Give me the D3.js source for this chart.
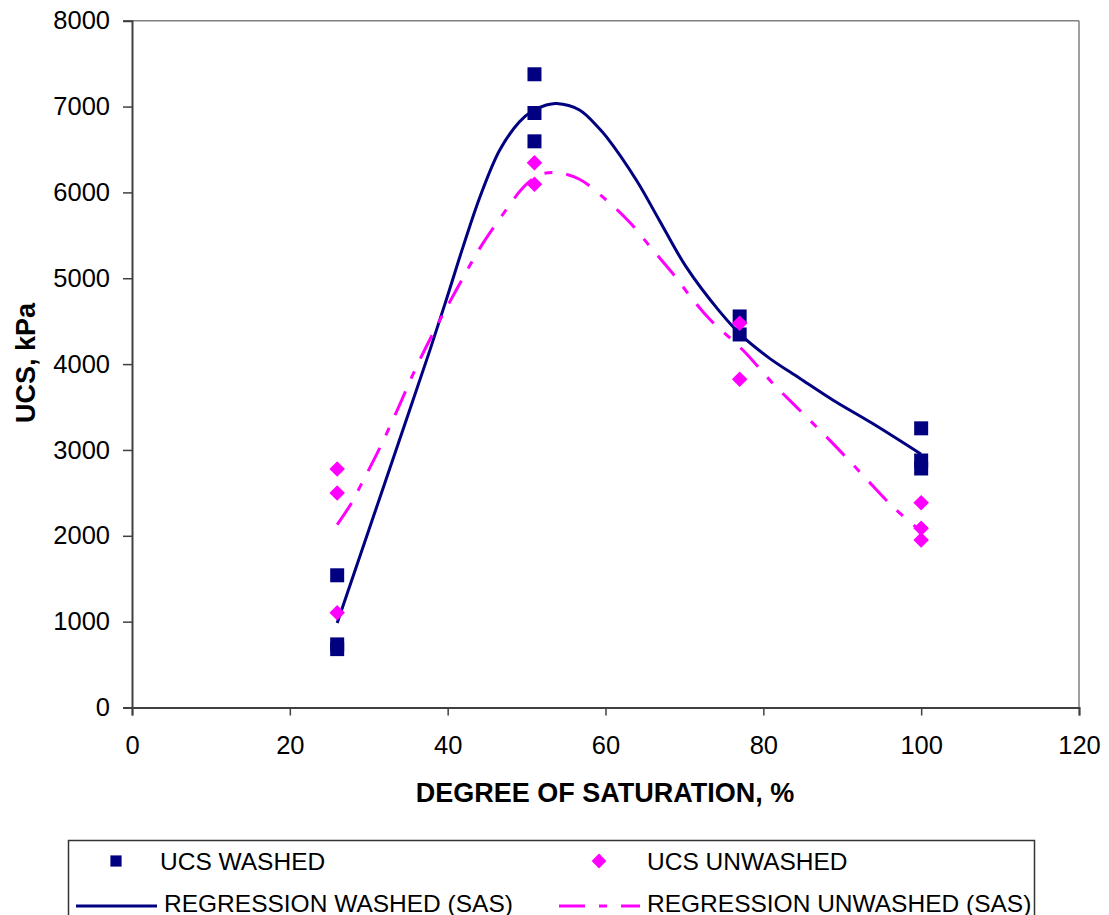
<!DOCTYPE html>
<html>
<head>
<meta charset="utf-8">
<script src="https://cdn.jsdelivr.net/npm/d3@7"></script>
<style>
  html, body { margin: 0; padding: 0; background: #fff; }
  svg { display: block; font-family: "Liberation Sans", Arial, sans-serif; }
</style>
</head>
<body>
<svg id="chart" width="1109" height="915"></svg>
<script>
// ---------------- DATA ----------------
const xTicks = [0, 20, 40, 60, 80, 100, 120];
const yTicks = [0, 1000, 2000, 3000, 4000, 5000, 6000, 7000, 8000];

// measured points: UCS WASHED
const washedX = [26, 26, 26, 51, 51, 51, 77, 77, 100, 100, 100];
const washedY = [1540, 735, 680, 7376, 6925, 6595, 4555, 4345, 3252, 2877, 2784];

// measured points: UCS UNWASHED
const unwashedX = [26, 26, 26, 51, 51, 77, 77, 100, 100, 100];
const unwashedY = [2778, 2498, 1104, 6346, 6095, 4475, 3823, 2386, 2087, 1951];

// regression curve WASHED (SAS)
const regWashedX = [26, 30, 34, 37.7, 40, 42, 44.1, 46.6, 49.1, 50.6, 52.5, 53.8, 56.7, 59, 60.1, 63.9, 66.8, 70.2, 74.4, 77.4, 80.8, 84.6, 88.8, 93.8, 100];
const regWashedY = [985, 2065, 3145, 4148, 4800, 5380, 5950, 6494, 6824, 6940, 7018, 7036, 6960, 6765, 6649, 6144, 5679, 5135, 4620, 4319, 4067, 3835, 3582, 3310, 2950];

// regression curve UNWASHED (SAS)
const regUnwashedX = [26, 27.8, 29.1, 31.4, 33.7, 35.9, 38.6, 41.3, 44.1, 47.2, 49.6, 51.6, 53.8, 56.7, 60.1, 63.0, 66.0, 68.5, 71.1, 73.3, 77.4, 81.2, 85.0, 88.8, 92.6, 96.4, 100];
const regUnwashedY = [2130, 2380, 2608, 3024, 3482, 3940, 4439, 4897, 5354, 5770, 6060, 6203, 6230, 6153, 5911, 5659, 5329, 5058, 4747, 4514, 4164, 3776, 3427, 3077, 2708, 2339, 2050];

const legendLabels = ["UCS WASHED", "UCS UNWASHED", "REGRESSION WASHED (SAS)", "REGRESSION UNWASHED (SAS)"];
const xTitle = "DEGREE OF SATURATION, %";
const yTitle = "UCS, kPa";

// ---------------- STYLE ----------------
const NAVY = "#000080";
const MAGENTA = "#FF00FF";
const DASHDOT = "26,14,8,14";

const svg = d3.select("#chart");
const x = d3.scaleLinear().domain([0, 120]).range([132, 1079]);
const y = d3.scaleLinear().domain([0, 8000]).range([707.5, 20.7]);

// plot-area border (top & right)
svg.append("line").attr("x1", x(0)).attr("x2", x(120)).attr("y1", y(8000)).attr("y2", y(8000))
  .attr("stroke", "#808080").attr("stroke-width", 1.5);
svg.append("line").attr("x1", x(120)).attr("x2", x(120)).attr("y1", y(8000)).attr("y2", y(0))
  .attr("stroke", "#808080").attr("stroke-width", 1.5);

// axes
const xAxis = svg.append("g").attr("transform", `translate(0,${y(0)})`)
  .call(d3.axisBottom(x).tickValues(xTicks).tickSize(8).tickPadding(20).tickFormat(d3.format("d")));
const yAxis = svg.append("g").attr("transform", `translate(${x(0)},0)`)
  .call(d3.axisLeft(y).tickValues(yTicks).tickSize(9).tickPadding(13).tickFormat(d3.format("d")));
[xAxis, yAxis].forEach(g => {
  g.select(".domain").attr("stroke", "#404040").attr("stroke-width", 2);
  g.selectAll(".tick line").attr("stroke", "#404040").attr("stroke-width", 1.5);
  g.selectAll(".tick text").attr("fill", "#000").style("font-size", "25.5px")
    .style("font-family", '"Liberation Sans", Arial, sans-serif');
});

// titles
svg.append("text").attr("x", 605).attr("y", 793).attr("text-anchor", "middle")
  .attr("dominant-baseline", "central").style("font-size", "27px").style("font-weight", "bold")
  .text(xTitle);
svg.append("text").attr("transform", `translate(26,363) rotate(-90)`).attr("text-anchor", "middle")
  .attr("dominant-baseline", "central").style("font-size", "27px").style("font-weight", "bold")
  .text(yTitle);

// regression curves
const line = d3.line().curve(d3.curveCatmullRom.alpha(0.5));
svg.append("path")
  .attr("d", line(regWashedX.map((v, i) => [x(v), y(regWashedY[i])])))
  .attr("fill", "none").attr("stroke", NAVY).attr("stroke-width", 3);
svg.append("path")
  .attr("d", line(regUnwashedX.map((v, i) => [x(v), y(regUnwashedY[i])])))
  .attr("fill", "none").attr("stroke", MAGENTA).attr("stroke-width", 3)
  .attr("stroke-dasharray", DASHDOT);

// markers
const sq = d3.symbol().type(d3.symbolSquare).size(14 * 14);
const dia = d3.symbol().type(d3.symbolSquare).size(11 * 11);
svg.append("g").selectAll("path").data(washedX.map((v, i) => [v, washedY[i]])).join("path")
  .attr("d", sq).attr("transform", d => `translate(${x(d[0])},${y(d[1])})`).attr("fill", NAVY);
svg.append("g").selectAll("path").data(unwashedX.map((v, i) => [v, unwashedY[i]])).join("path")
  .attr("d", dia).attr("transform", d => `translate(${x(d[0])},${y(d[1])}) rotate(45)`).attr("fill", MAGENTA);

// legend
const lg = svg.append("g");
lg.append("rect").attr("x", 68.5).attr("y", 840.5).attr("width", 966).attr("height", 120)
  .attr("fill", "#fff").attr("stroke", "#333").attr("stroke-width", 1.5);
const row1 = 861, row2 = 903;
lg.append("path").attr("d", sq).attr("fill", NAVY)
  .attr("transform", `translate(116,${row1}) scale(0.8)`);
lg.append("path").attr("d", dia).attr("transform", `translate(599,${row1}) rotate(45) scale(0.95)`).attr("fill", MAGENTA);
lg.append("line").attr("x1", 76).attr("x2", 157).attr("y1", row2 + 3).attr("y2", row2 + 3)
  .attr("stroke", NAVY).attr("stroke-width", 3);
lg.append("line").attr("x1", 559).attr("x2", 640).attr("y1", row2 + 3).attr("y2", row2 + 3)
  .attr("stroke", MAGENTA).attr("stroke-width", 3).attr("stroke-dasharray", DASHDOT);
const lt = [[160, row1, legendLabels[0]], [647, row1, legendLabels[1]], [164, row2, legendLabels[2]], [647, row2, legendLabels[3]]];
lg.selectAll("text").data(lt).join("text")
  .attr("x", d => d[0]).attr("y", d => d[1]).attr("dominant-baseline", "central")
  .style("font-size", "24.5px").text(d => d[2]);
</script>
</body>
</html>
